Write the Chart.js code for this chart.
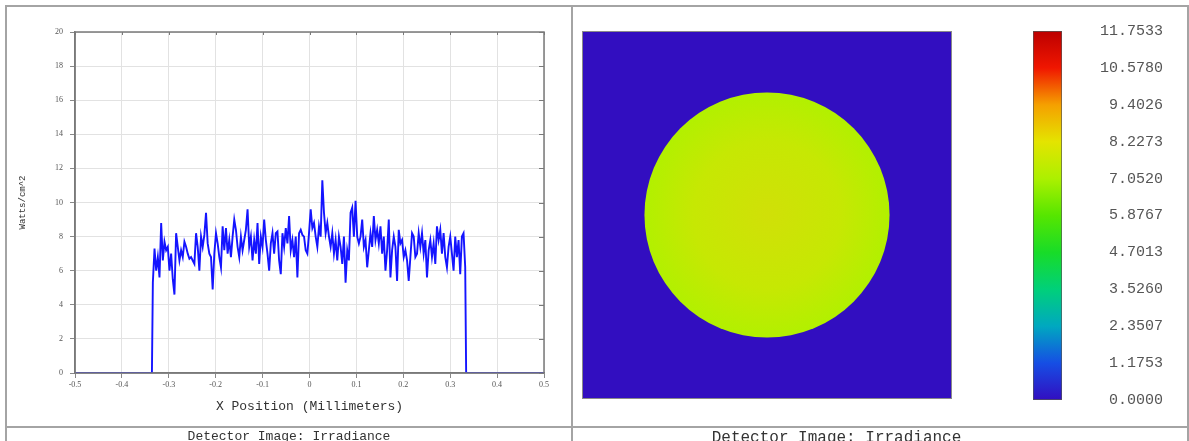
<!DOCTYPE html>
<html>
<head>
<meta charset="utf-8">
<script src="https://cdn.jsdelivr.net/npm/chart.js@4.4.0/dist/chart.umd.min.js"></script>
<style>
  html, body { margin: 0; padding: 0; background: #fff; }
  #wrap { position: relative; width: 1189px; height: 441px; overflow: hidden; background: #fff; }
  canvas { position: absolute; top: 0; }
  .ln { position: absolute; background: #a4a4a4; }
  .cap { position: absolute; top: 429px; font-family: "Liberation Mono", "Courier New", monospace; color: #333; white-space: nowrap; text-align: center; }
</style>
</head>
<body>
<div id="wrap">
  <canvas id="profileChart" width="572" height="427" style="left:0"></canvas>
  <canvas id="imageChart" width="400" height="427" style="left:573px"></canvas>
  <canvas id="scaleChart" width="189" height="427" style="left:1000px"></canvas>

  <div class="ln" style="left:5px;top:5px;width:1184px;height:2px"></div>
  <div class="ln" style="left:5px;top:5px;width:2px;height:436px"></div>
  <div class="ln" style="left:1187px;top:5px;width:2px;height:436px"></div>
  <div class="ln" style="left:571px;top:5px;width:2px;height:436px"></div>
  <div class="ln" style="left:5px;top:426px;width:1184px;height:2px"></div>

  <div class="cap" style="left:7px;width:564px;font-size:13px">Detector Image: Irradiance</div>
  <div class="cap" style="left:573px;width:527px;font-size:16px">Detector Image: Irradiance</div>
</div>

<script>
Chart.defaults.animation = false;

// X cross section through the detector, Watts/cm^2
const xMin = -0.5, xMax = 0.5;
const discLeft = -0.334, discRight = 0.332;   // lit part of the detector (mm)
const irradiance = [
  5.3, 7.3, 6.0, 6.8, 5.6, 8.8, 6.6, 7.7, 7.2, 7.4, 6.0, 7.0, 5.5, 4.6, 8.2, 7.4,
  6.6, 7.2, 6.8, 7.7, 7.4, 7.0, 6.7, 6.8, 6.6, 6.4, 8.2, 7.4, 6.0, 8.0, 7.4, 8.1,
  9.4, 7.6, 7.0, 6.8, 4.9, 7.0, 8.2, 7.6, 6.8, 6.2, 8.6, 7.2, 8.5, 7.0, 7.8, 6.8,
  8.0, 9.0, 8.4, 7.4, 6.8, 8.0, 7.2, 7.8, 8.4, 9.6, 7.4, 8.0, 6.6, 7.8,
  7.0, 8.8, 6.4, 8.0, 7.4, 9.0, 7.8, 7.0, 6.0, 7.6, 8.2, 7.0, 8.2, 8.3, 6.6, 5.8,
  8.2, 7.4, 8.5, 7.6, 9.2, 7.2, 7.8, 6.8, 8.0, 5.6, 8.2, 8.4, 8.1, 8.0, 7.2, 7.0,
  8.2, 9.6, 8.5, 8.8, 8.0, 7.4, 8.6, 8.0, 11.3, 9.4, 8.2, 8.8, 8.0, 7.4, 8.2, 7.0,
  7.8, 6.6, 8.0, 7.4, 6.4, 8.0, 5.3, 7.2, 6.6, 9.4, 9.7, 8.0, 10.1, 8.0, 7.6,
  8.0, 9.0, 7.4, 7.8, 6.2, 7.2, 8.2, 7.4, 9.2, 7.8, 8.4, 7.6, 8.6, 7.0, 8.0, 6.0,
  7.2, 9.0, 5.6, 7.2, 8.0, 7.4, 5.4, 8.4, 7.6, 7.8, 6.8, 7.2, 6.6, 5.4, 6.8, 8.2,
  8.0, 6.8, 7.0, 8.2, 7.4, 8.2, 7.0, 7.8, 5.6, 7.2, 7.8, 6.8, 7.6, 6.4, 8.6, 7.8,
  8.4, 7.0, 8.2, 6.8, 6.2, 7.4, 8.0, 7.0, 6.0, 8.0, 6.8, 7.8, 5.8, 8.0, 8.2, 6.2
];

// detector image: lit disc of this radius (mm) on a dark field
const discRadius = 0.333;
const fieldValue = 0;
const discValue = 7.6;

// colour bar
const scaleMax = 11.7533;
const scaleTicks = [0, 1.1753, 2.3507, 3.5260, 4.7013, 5.8767, 7.0520, 8.2273, 9.4026, 10.5780, 11.7533];
const scaleStops = [
  [0.00, 'rgb(50,14,192)'],
  [0.10, 'rgb(22,78,228)'],
  [0.20, 'rgb(0,168,192)'],
  [0.30, 'rgb(0,208,122)'],
  [0.40, 'rgb(24,220,40)'],
  [0.50, 'rgb(86,230,0)'],
  [0.60, 'rgb(172,240,0)'],
  [0.70, 'rgb(228,228,0)'],
  [0.80, 'rgb(245,160,0)'],
  [0.90, 'rgb(240,22,0)'],
  [1.00, 'rgb(188,0,0)']
];

const profilePoints = [{x: xMin, y: 0}, {x: discLeft - 0.002, y: 0}];
irradiance.forEach((v, i) => {
  profilePoints.push({x: discLeft + (discRight - discLeft) * i / (irradiance.length - 1), y: v});
});
profilePoints.push({x: discRight + 0.002, y: 0}, {x: xMax, y: 0});

// frame + small inward ticks on the top and right of the plot
const plotFrame = {
  id: 'plotFrame',
  afterDraw(chart) {
    const {ctx, chartArea: a, scales: {x, y}} = chart;
    ctx.save();
    ctx.strokeStyle = '#7a7a7a';
    ctx.lineWidth = 1.5;
    ctx.strokeRect(a.left, a.top, a.right - a.left, a.bottom - a.top);
    ctx.lineWidth = 1;
    ctx.beginPath();
    x.ticks.forEach(t => {
      const px = Math.round(x.getPixelForValue(t.value)) + 0.5;
      ctx.moveTo(px, a.top); ctx.lineTo(px, a.top + 3);
    });
    y.ticks.forEach(t => {
      const py = Math.round(y.getPixelForValue(t.value)) + 0.5;
      ctx.moveTo(a.right, py); ctx.lineTo(a.right - 5, py);
    });
    ctx.stroke();
    ctx.restore();
  }
};

new Chart(document.getElementById('profileChart'), {
  type: 'scatter',
  data: {
    datasets: [{
      data: profilePoints,
      showLine: true,
      borderColor: '#1414ff',
      borderWidth: 1.9,
      pointRadius: 0,
      tension: 0
    }]
  },
  options: {
    responsive: false,
    layout: { padding: { left: 10, top: 32, right: 28, bottom: 9 } },
    plugins: { legend: { display: false }, tooltip: { enabled: false } },
    scales: {
      x: {
        type: 'linear', min: xMin, max: xMax,
        afterFit: s => { s.height = 45; },
        ticks: {
          stepSize: 0.1, maxRotation: 0, padding: 2,
          color: '#555', font: { family: 'Liberation Serif', size: 8 },
          callback: v => String(Math.round(v * 10) / 10)
        },
        grid: { color: '#e2e2e2', tickColor: '#888', tickLength: 5 },
        border: { color: '#7a7a7a', width: 1.5 },
        title: {
          display: true, text: 'X Position (Millimeters)', color: '#333',
          font: { family: 'Liberation Mono', size: 13 }, padding: { top: 0, bottom: 4 }
        }
      },
      y: {
        min: 0, max: 20,
        afterFit: s => { s.width = 65; },
        ticks: {
          stepSize: 2, padding: 7,
          color: '#555', font: { family: 'Liberation Serif', size: 8 }
        },
        grid: { color: '#e2e2e2', tickColor: '#888', tickLength: 5 },
        border: { color: '#7a7a7a', width: 1.5 },
        title: {
          display: true, text: 'Watts/cm^2', color: '#333',
          font: { family: 'Liberation Mono', size: 9 }, padding: { top: 7, bottom: 0 }
        }
      }
    }
  },
  plugins: [plotFrame]
});

function valueColour(v) {
  const f = v / scaleMax;
  for (let i = 1; i < scaleStops.length; i++) {
    if (f <= scaleStops[i][0]) return scaleStops[i - 1][1];
  }
  return scaleStops[scaleStops.length - 1][1];
}

// detector field painted with the colour for its value, thin grey border
const imageField = {
  id: 'imageField',
  beforeDatasetsDraw(chart) {
    const {ctx, chartArea: a} = chart;
    ctx.save();
    ctx.fillStyle = valueColour(fieldValue);
    ctx.fillRect(a.left, a.top, a.right - a.left, a.bottom - a.top);
    ctx.restore();
  },
  afterDraw(chart) {
    const {ctx, chartArea: a} = chart;
    ctx.save();
    ctx.strokeStyle = '#8a8a8a';
    ctx.lineWidth = 1;
    ctx.strokeRect(a.left - 0.5, a.top - 0.5, a.right - a.left + 1, a.bottom - a.top + 1);
    ctx.restore();
  }
};

new Chart(document.getElementById('imageChart'), {
  type: 'scatter',
  data: {
    datasets: [{
      data: [{x: 0, y: 0, v: discValue}],
      pointStyle: 'circle',
      borderWidth: 0,
      radius: c => {
        const s = c.chart.scales.x;
        return Math.abs(s.getPixelForValue(discRadius) - s.getPixelForValue(0));
      },
      backgroundColor: c => {
        const {ctx, chartArea, scales} = c.chart;
        if (!chartArea) return 'rgb(184,238,0)';
        const cx = scales.x.getPixelForValue(0), cy = scales.y.getPixelForValue(0);
        const r = Math.abs(scales.x.getPixelForValue(discRadius) - cx);
        const g = ctx.createRadialGradient(cx, cy, 0, cx, cy, r);
        g.addColorStop(0, 'rgb(208,224,8)');
        g.addColorStop(0.6, 'rgb(198,232,3)');
        g.addColorStop(1, 'rgb(178,240,0)');
        return g;
      }
    }]
  },
  options: {
    responsive: false,
    layout: { padding: { left: 10, top: 32, right: 22, bottom: 29 } },
    plugins: { legend: { display: false }, tooltip: { enabled: false } },
    scales: {
      x: { type: 'linear', min: xMin, max: xMax, display: false },
      y: { type: 'linear', min: xMin, max: xMax, display: false }
    }
  },
  plugins: [imageField]
});

new Chart(document.getElementById('scaleChart'), {
  type: 'bar',
  data: {
    labels: ['Irradiance'],
    datasets: [{
      data: [[0, scaleMax]],
      barPercentage: 1,
      categoryPercentage: 1,
      borderWidth: 1,
      borderColor: '#555',
      borderSkipped: false,
      backgroundColor: c => {
        const {ctx, chartArea} = c.chart;
        if (!chartArea) return scaleStops[0][1];
        const g = ctx.createLinearGradient(0, chartArea.bottom, 0, chartArea.top);
        scaleStops.forEach(([p, col]) => g.addColorStop(p, col));
        return g;
      }
    }]
  },
  options: {
    responsive: false,
    layout: { padding: { left: 33, top: 31, right: 26, bottom: 27 } },
    plugins: { legend: { display: false }, tooltip: { enabled: false } },
    scales: {
      x: { display: false },
      y: {
        position: 'right',
        min: 0, max: scaleMax,
        afterFit: s => { s.width = 101; },
        afterBuildTicks: s => { s.ticks = scaleTicks.map(v => ({value: v})); },
        ticks: {
          autoSkip: false, crossAlign: 'far', padding: 0,
          color: '#555', font: { family: 'Liberation Mono', size: 15 },
          callback: v => Number(v).toFixed(4)
        },
        grid: { display: false, drawTicks: false },
        border: { display: false }
      }
    }
  }
});
</script>
</body>
</html>
